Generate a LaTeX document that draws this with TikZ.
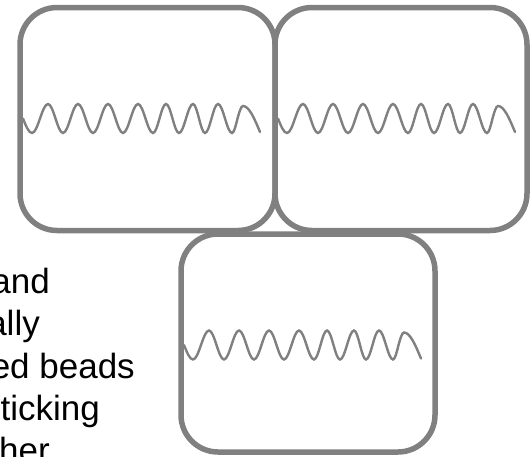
\documentclass[tikz,border=0pt]{standalone}
\usepackage{fontspec}
\setmainfont{Liberation Sans}
\usepackage{tikz}
\usetikzlibrary{positioning}
\definecolor{framegray}{HTML}{808080}
\tikzset{
  frame/.style={
    draw=framegray,
    line width=5.5pt,
    rounded corners=37pt,
    anchor=north west,
    outer sep=0pt,
    inner sep=0pt},
  words/.style={
    anchor=base east,
    inner sep=0pt,
    font=\fontsize{35}{42}\selectfont},
  wave/.pic={
    \draw[framegray, line width=2.4pt, line cap=round]
      (3,111) sin (12,125.5) cos (20,111) sin (28,96.5)
      cos (35.5,111) sin (43,125.5) cos (50.5,111) sin (58,96.5)
      cos (65.5,111) sin (73,125.5) cos (80.5,111) sin (88,96.5)
      cos (95.5,111) sin (103,125.5) cos (110.5,111) sin (118,96.5)
      cos (125.5,111) sin (133,125.5) cos (139.5,111) sin (146,96.5)
      cos (152.5,111) sin (159,125.5) cos (166,111) sin (173,96.5)
      cos (179,111) sin (185,125.5) cos (191.5,111) sin (198,96.5)
      cos (205,111) sin (212,125.5) cos (217.5,111) sin (223,98.5)
      cos (240,124.5);
  }
}

\begin{document}
\begin{tikzpicture}[x=1pt, y=-1pt]
  \useasboundingbox (0,0) rectangle (531,456);
  \clip (0,0) rectangle (531,456);
  % three panels, two on top and one below
  \node[frame, minimum width=255pt, minimum height=223pt] (p1) at (20,7.5) {};
  \node[frame, minimum width=252pt, minimum height=223pt] (p2) at (275,7.5) {};
  \node[frame, minimum width=254pt, minimum height=218pt] (p3) at (181,234) {};
  \pic at (p1.north west) {wave};
  \pic at (p2.north west) {wave};
  \pic at (p3.north west) {wave};
  % text running in from the left
  \node[words] (t1) at (50,293) {and};
  \node[words] (t2) at (40,335) {ally};
  \node[words] (t3) at (135,378) {ed beads};
  \node[words] (t4) at (100,420) {ticking};
  \node[words] (t5) at (50,462) {her};
\end{tikzpicture}
\end{document}
